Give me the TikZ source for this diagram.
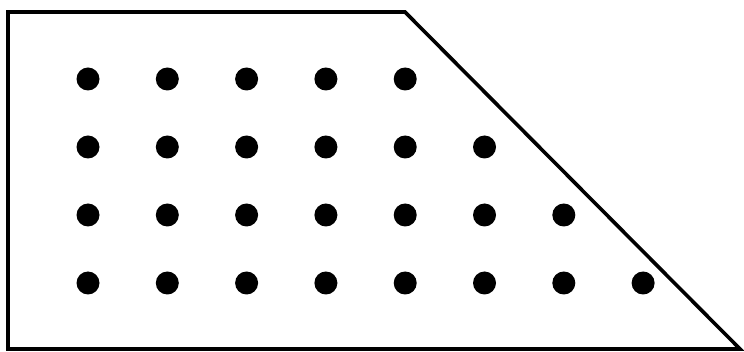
\documentclass[tikz,border=0pt]{standalone}
\usepackage{tikz}

\tikzset{
  outline/.style={draw=black, line width=3.6pt, line join=miter},
  pin/.style={fill=black}
}

\begin{document}
\begin{tikzpicture}[x=1pt, y=-1pt]
        \useasboundingbox (0,0) rectangle (744,352);

        % Obrub
        \draw[outline] (8,12) -- (405,12) -- (740,349) -- (8,349) -- cycle;

        % Tocke, red po red
        \foreach \y/\n in {79/5, 147/6, 215/7, 283/8} {
            \foreach \i in {1,...,\n} {
                \fill[pin] ({88 + (\i-1)*79.3}, \y) circle (11.5);
            }
        }
    \end{tikzpicture}
\end{document}
